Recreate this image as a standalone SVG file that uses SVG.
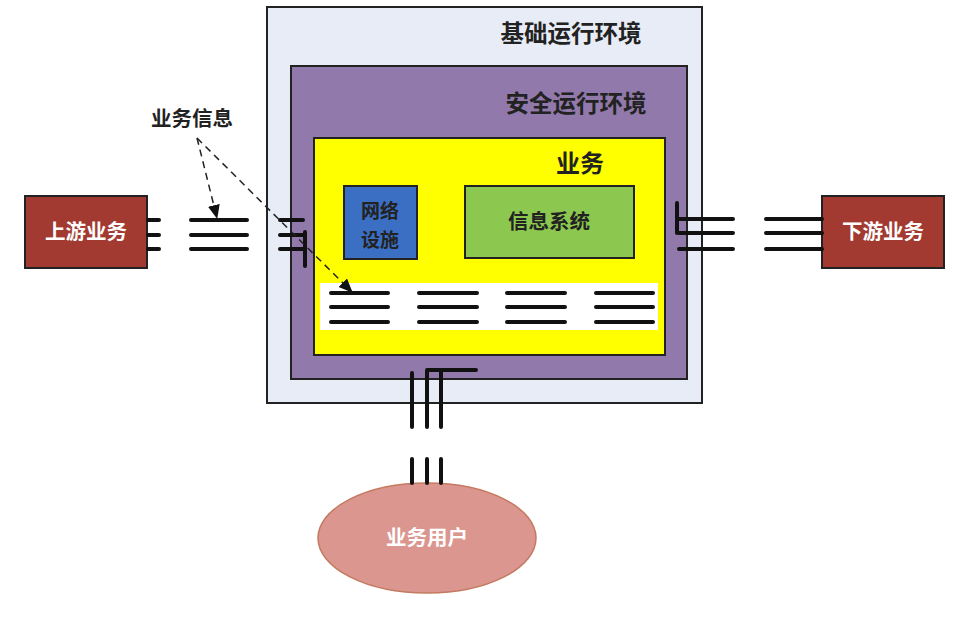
<svg xmlns="http://www.w3.org/2000/svg" width="961" height="623" viewBox="0 0 961 623">
<defs>
<style>
.t{font-family:"Noto Sans CJK SC","Noto Sans",sans-serif;font-weight:bold;}
.ln{stroke:#111;stroke-width:4;stroke-linecap:round;fill:none;}
.box{stroke:#222;stroke-width:2;}
.dash{stroke:#222;stroke-width:1.5;stroke-dasharray:7,5;fill:none;}
</style>
<marker id="ah" markerWidth="14" markerHeight="14" refX="13" refY="6" orient="auto" markerUnits="userSpaceOnUse" viewBox="0 0 14 12">
<path d="M0,0 L14,6 L0,12 z" fill="#111"/>
</marker>
</defs>
<rect width="961" height="623" fill="#fff"/>
<g id="base-env">
<rect x="267" y="7" width="435" height="396" fill="#e8ecf6" class="box"/>
<text x="571" y="42" class="t" font-size="23.5" fill="#222" text-anchor="middle">基础运行环境</text>
</g>
<g id="safe-env">
<rect x="291" y="66" width="396" height="313" fill="#9179ab" class="box"/>
<text x="576" y="112" class="t" font-size="23.5" fill="#222" text-anchor="middle">安全运行环境</text>
</g>
<g id="business">
<rect x="314" y="138" width="351" height="217" fill="#ffff00" class="box"/>
<text x="580" y="172" class="t" font-size="24" fill="#222" text-anchor="middle">业务</text>
<rect x="320" y="283" width="338" height="47" fill="#fff"/>
</g>
<g id="network">
<rect x="344" y="186" width="73" height="73" fill="#3b6fc4" class="box"/>
<text x="380" y="218" class="t" font-size="19" fill="#222" text-anchor="middle">网络</text>
<text x="380" y="247" class="t" font-size="19" fill="#222" text-anchor="middle">设施</text>
</g>
<g id="infosys">
<rect x="465" y="186" width="169" height="72" fill="#8cc84f" class="box"/>
<text x="549" y="229" class="t" font-size="20.5" fill="#222" text-anchor="middle">信息系统</text>
</g>
<g id="upstream">
<rect x="25" y="196" width="122" height="72" fill="#a23a31" class="box"/>
<text x="86" y="239" class="t" font-size="20.5" fill="#fff" text-anchor="middle">上游业务</text>
</g>
<g id="downstream">
<rect x="822" y="196" width="122" height="72" fill="#a23a31" class="box"/>
<text x="883" y="239" class="t" font-size="20.5" fill="#fff" text-anchor="middle">下游业务</text>
</g>
<g id="users">
<ellipse cx="427" cy="538" rx="109" ry="55" fill="#db9690" stroke="#c47a60" stroke-width="1.5"/>
<text x="427" y="545" class="t" font-size="20.5" fill="#fff" text-anchor="middle">业务用户</text>
</g>
<g id="label">
<text x="192" y="126" class="t" font-size="20.5" fill="#222" text-anchor="middle">业务信息</text>
</g>
<g id="connectors">
<path class="ln" d="M148,220H159M148,235H159M148,249H159"/>
<path class="ln" d="M191,220H247M191,235H247M191,249H247"/>
<path class="ln" d="M280,220H303M280,235H305M280,249H305M305,232V266"/>
<path class="ln" d="M677,203V233M679,219H733M679,233H733M679,249H733"/>
<path class="ln" d="M766,219H822M766,233H822M766,249H822"/>
<path class="ln" d="M412,373V427M427,371V427M441,371V427M427,370H476"/>
<path class="ln" d="M412,459V483M427,459V483M441,459V483"/>
<path class="ln" d="M331,293H388M331,307H388M331,322H388"/>
<path class="ln" d="M419,293H477M419,307H477M419,322H477"/>
<path class="ln" d="M507,293H565M507,307H565M507,322H565"/>
<path class="ln" d="M596,293H653M596,307H653M596,322H653"/>
<path class="dash" d="M197,138L217,218" marker-end="url(#ah)"/>
<path class="dash" d="M197,138L352,292" marker-end="url(#ah)"/>
</g>
</svg>
